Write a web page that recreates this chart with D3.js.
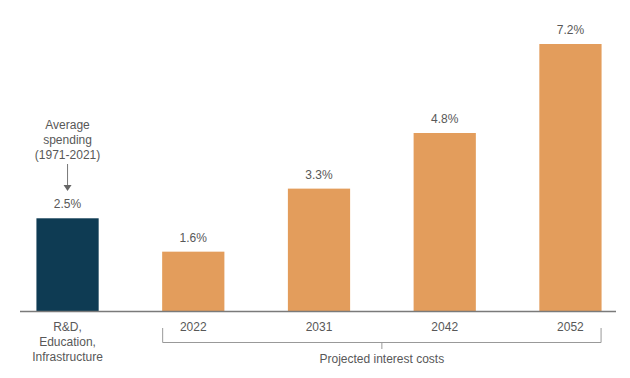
<!DOCTYPE html>
<html><head><meta charset="utf-8">
<script src="https://cdn.jsdelivr.net/npm/d3@7"></script>
<style>body{margin:0;background:#fff}svg{display:block}text{font-family:"Liberation Sans",Arial,sans-serif;}</style>
</head><body><svg id="c" width="630" height="378"></svg>
<script>
const categories = ["R&D, Education, Infrastructure", "2022", "2031", "2042", "2052"];
const categoryLines = [["R&D,", "Education,", "Infrastructure"], ["2022"], ["2031"], ["2042"], ["2052"]];
const values = [2.5, 1.6, 3.3, 4.8, 7.2];
const valueLabels = ["2.5%", "1.6%", "3.3%", "4.8%", "7.2%"];
const annotationLines = ["Average", "spending", "(1971-2021)"];
const bracketLabel = "Projected interest costs";

const svg = d3.select("#c");
const base = 311;
const x = d3.scaleBand().domain(categories).range([5, 633]).paddingInner(0.505).paddingOuter(0.25);
const y = d3.scaleLinear().domain([0, 7.2]).range([base, 44]);
const txt = "#585858";

svg.selectAll("rect.bar").data(values).join("rect")
  .attr("x", (d,i)=>x(categories[i])).attr("width", x.bandwidth())
  .attr("y", d=>y(d)).attr("height", d=>base - y(d))
  .attr("fill", (d,i)=> i===0 ? "#0e3b53" : "#e39d5c");

svg.selectAll("text.val").data(values).join("text")
  .attr("x", (d,i)=>x(categories[i]) + x.bandwidth()/2).attr("y", d=>y(d) - 10)
  .attr("text-anchor","middle").attr("font-size",12).attr("fill",txt)
  .text((d,i)=>valueLabels[i]);

// axis line
svg.append("line").attr("x1",20).attr("x2",616).attr("y1",base+0.5).attr("y2",base+0.5)
  .attr("stroke","#7a7a7a").attr("stroke-width",1.5);

// category labels
categories.forEach((c,i)=>{
  const cx = x(c) + x.bandwidth()/2;
  categoryLines[i].forEach((l,j)=>{
    svg.append("text").attr("x",cx).attr("y",331 + j*15).attr("text-anchor","middle")
      .attr("font-size",12).attr("fill",txt).text(l);
  });
});

// annotation
const ax = x(categories[0]) + x.bandwidth()/2;
annotationLines.forEach((l,j)=>{
  svg.append("text").attr("x",ax).attr("y",129 + j*15).attr("text-anchor","middle")
    .attr("font-size",12).attr("fill",txt).text(l);
});
svg.append("line").attr("x1",ax).attr("x2",ax).attr("y1",164).attr("y2",186)
  .attr("stroke","#777").attr("stroke-width",1);
svg.append("path").attr("d",`M${ax-4},${185}L${ax+4},${185}L${ax},${191}Z`).attr("fill","#666");

// bracket
const bl = x(categories[1]) + 0.5, br = x(categories[4]) + x.bandwidth() - 0.5;
const bm = (bl+br)/2;
svg.append("path").attr("d",`M${bl},328V342.5H${br}V328M${bm},342.5V349`)
  .attr("fill","none").attr("stroke","#999").attr("stroke-width",1);
svg.append("text").attr("x",bm).attr("y",363).attr("text-anchor","middle")
  .attr("font-size",12).attr("fill",txt).text(bracketLabel);
</script></body></html>
